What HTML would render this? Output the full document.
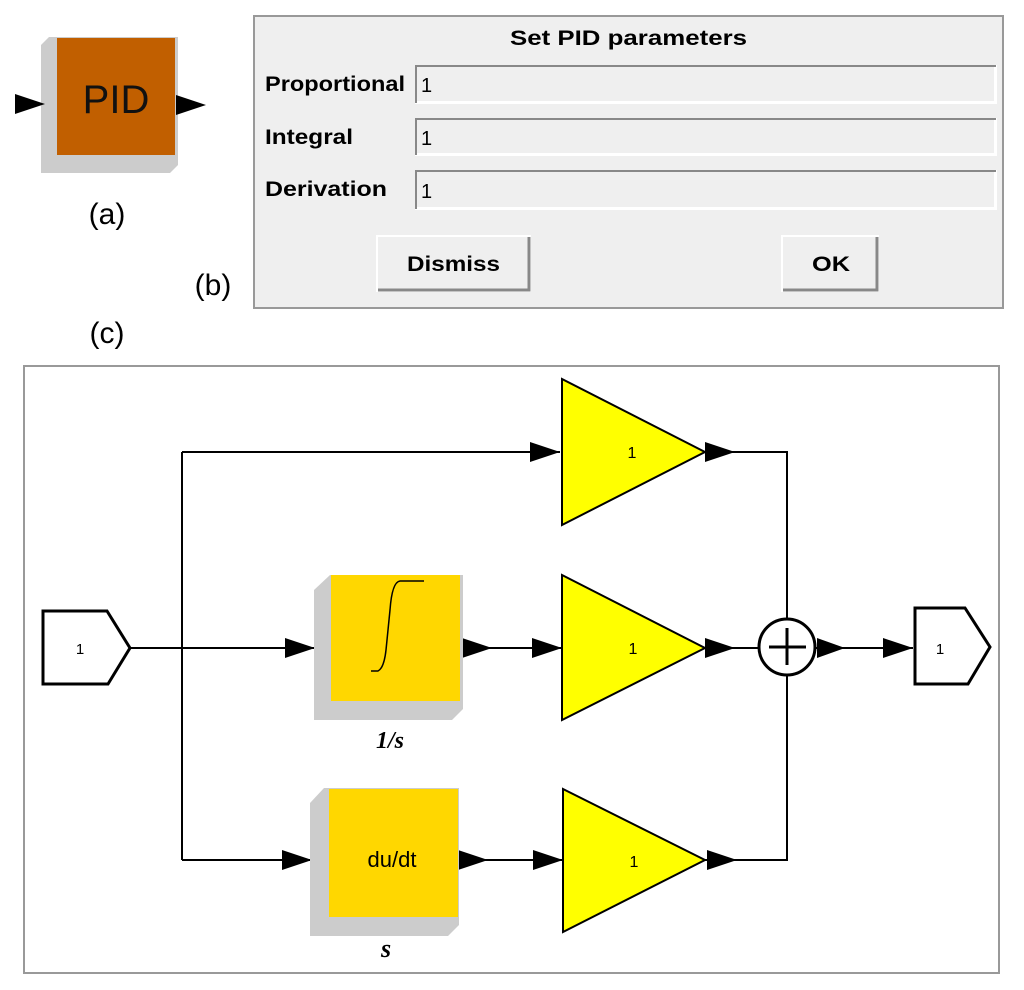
<!DOCTYPE html>
<html><head><meta charset="utf-8"><style>
html,body{margin:0;padding:0;background:#fff;}
svg{display:block}
</style></head><body>
<svg width="1024" height="990" viewBox="0 0 1024 990" xmlns="http://www.w3.org/2000/svg">
<defs>
<marker id="a" viewBox="0 0 30 20" markerWidth="30" markerHeight="20" refX="30" refY="10" markerUnits="userSpaceOnUse" orient="auto"><path d="M0,0 L30,10 L0,20 Z" fill="#000"/></marker>
</defs>
<!-- (a) -->
<polygon points="49,37 178,37 178,165 170,173 41,173 41,45" fill="#cccccc"/>
<rect x="57" y="38" width="118" height="117" fill="#c15f00"/>
<text x="116" y="113" font-family="Liberation Sans, sans-serif" font-size="40" text-anchor="middle" fill="#111">PID</text>
<path d="M15,94 L45,104 L15,114 Z" fill="#000"/>
<path d="M176,95 L206,105 L176,115 Z" fill="#000"/>
<text x="107" y="224" font-family="Liberation Sans, sans-serif" font-size="30" text-anchor="middle">(a)</text>
<text x="213" y="295" font-family="Liberation Sans, sans-serif" font-size="30" text-anchor="middle">(b)</text>
<text x="107" y="343" font-family="Liberation Sans, sans-serif" font-size="30" text-anchor="middle">(c)</text>
<!-- (b) dialog -->
<rect x="254" y="16" width="749" height="292" fill="#efefef" stroke="#999" stroke-width="2"/>
<text x="510" y="45" textLength="237" lengthAdjust="spacingAndGlyphs" font-family="Liberation Sans, sans-serif" font-size="21" font-weight="bold">Set PID parameters</text>
<g font-family="Liberation Sans, sans-serif" font-size="21" font-weight="bold">
<text x="265" y="91" textLength="140" lengthAdjust="spacingAndGlyphs">Proportional</text>
<text x="265" y="144" textLength="88" lengthAdjust="spacingAndGlyphs">Integral</text>
<text x="265" y="196" textLength="122" lengthAdjust="spacingAndGlyphs">Derivation</text>
</g>
<g fill="#efefef" stroke-width="2">
<rect x="415" y="65" width="582" height="39" fill="#fff"/>
<rect x="416" y="66" width="578" height="35" fill="#efefef"/>
<path d="M416,103 L416,66 L996,66" fill="none" stroke="#888"/>
<rect x="415" y="118" width="582" height="38" fill="#fff"/>
<rect x="416" y="119" width="578" height="34" fill="#efefef"/>
<path d="M416,155 L416,119 L996,119" fill="none" stroke="#888"/>
<rect x="415" y="170" width="582" height="40" fill="#fff"/>
<rect x="416" y="171" width="578" height="36" fill="#efefef"/>
<path d="M416,209 L416,171 L996,171" fill="none" stroke="#888"/>
</g>
<g font-family="Liberation Sans, sans-serif" font-size="20">
<text x="421" y="92">1</text><text x="421" y="145">1</text><text x="421" y="198">1</text>
</g>
<rect x="377" y="236" width="153" height="55" fill="#efefef" stroke="#fff" stroke-width="2"/>
<path d="M378,290 L529,290 L529,237" fill="none" stroke="#888" stroke-width="3"/>
<rect x="782" y="236" width="96" height="55" fill="#efefef" stroke="#fff" stroke-width="2"/>
<path d="M783,290 L877,290 L877,237" fill="none" stroke="#888" stroke-width="3"/>
<g font-family="Liberation Sans, sans-serif" font-size="21" font-weight="bold">
<text x="407" y="271" textLength="93" lengthAdjust="spacingAndGlyphs">Dismiss</text><text x="812" y="271" textLength="38" lengthAdjust="spacingAndGlyphs">OK</text>
</g>
<!-- (c) -->
<rect x="24" y="366" width="975" height="607" fill="#fff" stroke="#999" stroke-width="2"/>
<g stroke="#000" stroke-width="2" fill="none">
<polyline points="131,648 182,648"/>
<polyline points="182,452 182,860"/>
<line x1="182" y1="452" x2="560" y2="452" marker-end="url(#a)"/>
<line x1="182" y1="648" x2="315" y2="648" marker-end="url(#a)"/>
<line x1="182" y1="860" x2="312" y2="860" marker-end="url(#a)"/>
<line x1="462" y1="648" x2="562" y2="648" marker-end="url(#a)"/>
<line x1="458" y1="860" x2="563" y2="860" marker-end="url(#a)"/>
<polyline points="705,452 787,452 787,619"/>
<polyline points="705,860 787,860 787,676"/>
<line x1="705" y1="648" x2="759" y2="648"/>
<line x1="815" y1="648" x2="913" y2="648" marker-end="url(#a)"/>
</g>
<g fill="#000">
<path d="M462,638 L492,648 L462,658 Z"/>
<path d="M458,850 L488,860 L458,870 Z"/>
<path d="M705,442 L735,452 L705,462 Z"/>
<path d="M705,638 L735,648 L705,658 Z"/>
<path d="M707,850 L737,860 L707,870 Z"/>
<path d="M817,638 L845,648 L817,658 Z"/>
</g>
<!-- input port -->
<polygon points="43,611 107,611 130,648 108,684 43,684" fill="#fff" stroke="#000" stroke-width="3"/>
<text x="80" y="654" font-family="Liberation Sans, sans-serif" font-size="15" text-anchor="middle">1</text>
<!-- output port -->
<polygon points="915,608 965,608 990,647 968,684 915,684" fill="#fff" stroke="#000" stroke-width="3"/>
<text x="940" y="654" font-family="Liberation Sans, sans-serif" font-size="15" text-anchor="middle">1</text>
<!-- gains -->
<g fill="#ffff00" stroke="#000" stroke-width="2">
<polygon points="562,379 705,452 562,525"/>
<polygon points="562,575 705,648 562,720"/>
<polygon points="563,789 705,860 563,932"/>
</g>
<g font-family="Liberation Sans, sans-serif" font-size="16" text-anchor="middle">
<text x="632" y="458">1</text><text x="633" y="654">1</text><text x="634" y="867">1</text>
</g>
<!-- integrator -->
<polygon points="330,575 463,575 463,709 452,720 314,720 314,590" fill="#cccccc"/>
<rect x="331" y="575" width="129" height="126" fill="#ffd700"/>
<path d="M371,671 L378,671 Q384,668 386,650 L390,610 Q392,582 400,581 L424,581" fill="none" stroke="#000" stroke-width="1.5"/>
<text x="390" y="748" font-family="Liberation Serif, serif" font-size="24" font-weight="bold" font-style="italic" text-anchor="middle">1/s</text>
<!-- derivative -->
<polygon points="324,788 459,788 459,925 448,936 310,936 310,803" fill="#cccccc"/>
<rect x="329" y="789" width="129" height="128" fill="#ffd700"/>
<text x="392" y="867" font-family="Liberation Sans, sans-serif" font-size="22" text-anchor="middle">du/dt</text>
<text x="386" y="957" font-family="Liberation Serif, serif" font-size="26" font-weight="bold" font-style="italic" text-anchor="middle">s</text>
<!-- sum -->
<circle cx="787" cy="647" r="28" fill="#fff" stroke="#000" stroke-width="3"/>
<line x1="769" y1="647" x2="806" y2="647" stroke="#000" stroke-width="3"/>
<line x1="787" y1="628" x2="787" y2="665" stroke="#000" stroke-width="3"/>
</svg>
</body></html>
